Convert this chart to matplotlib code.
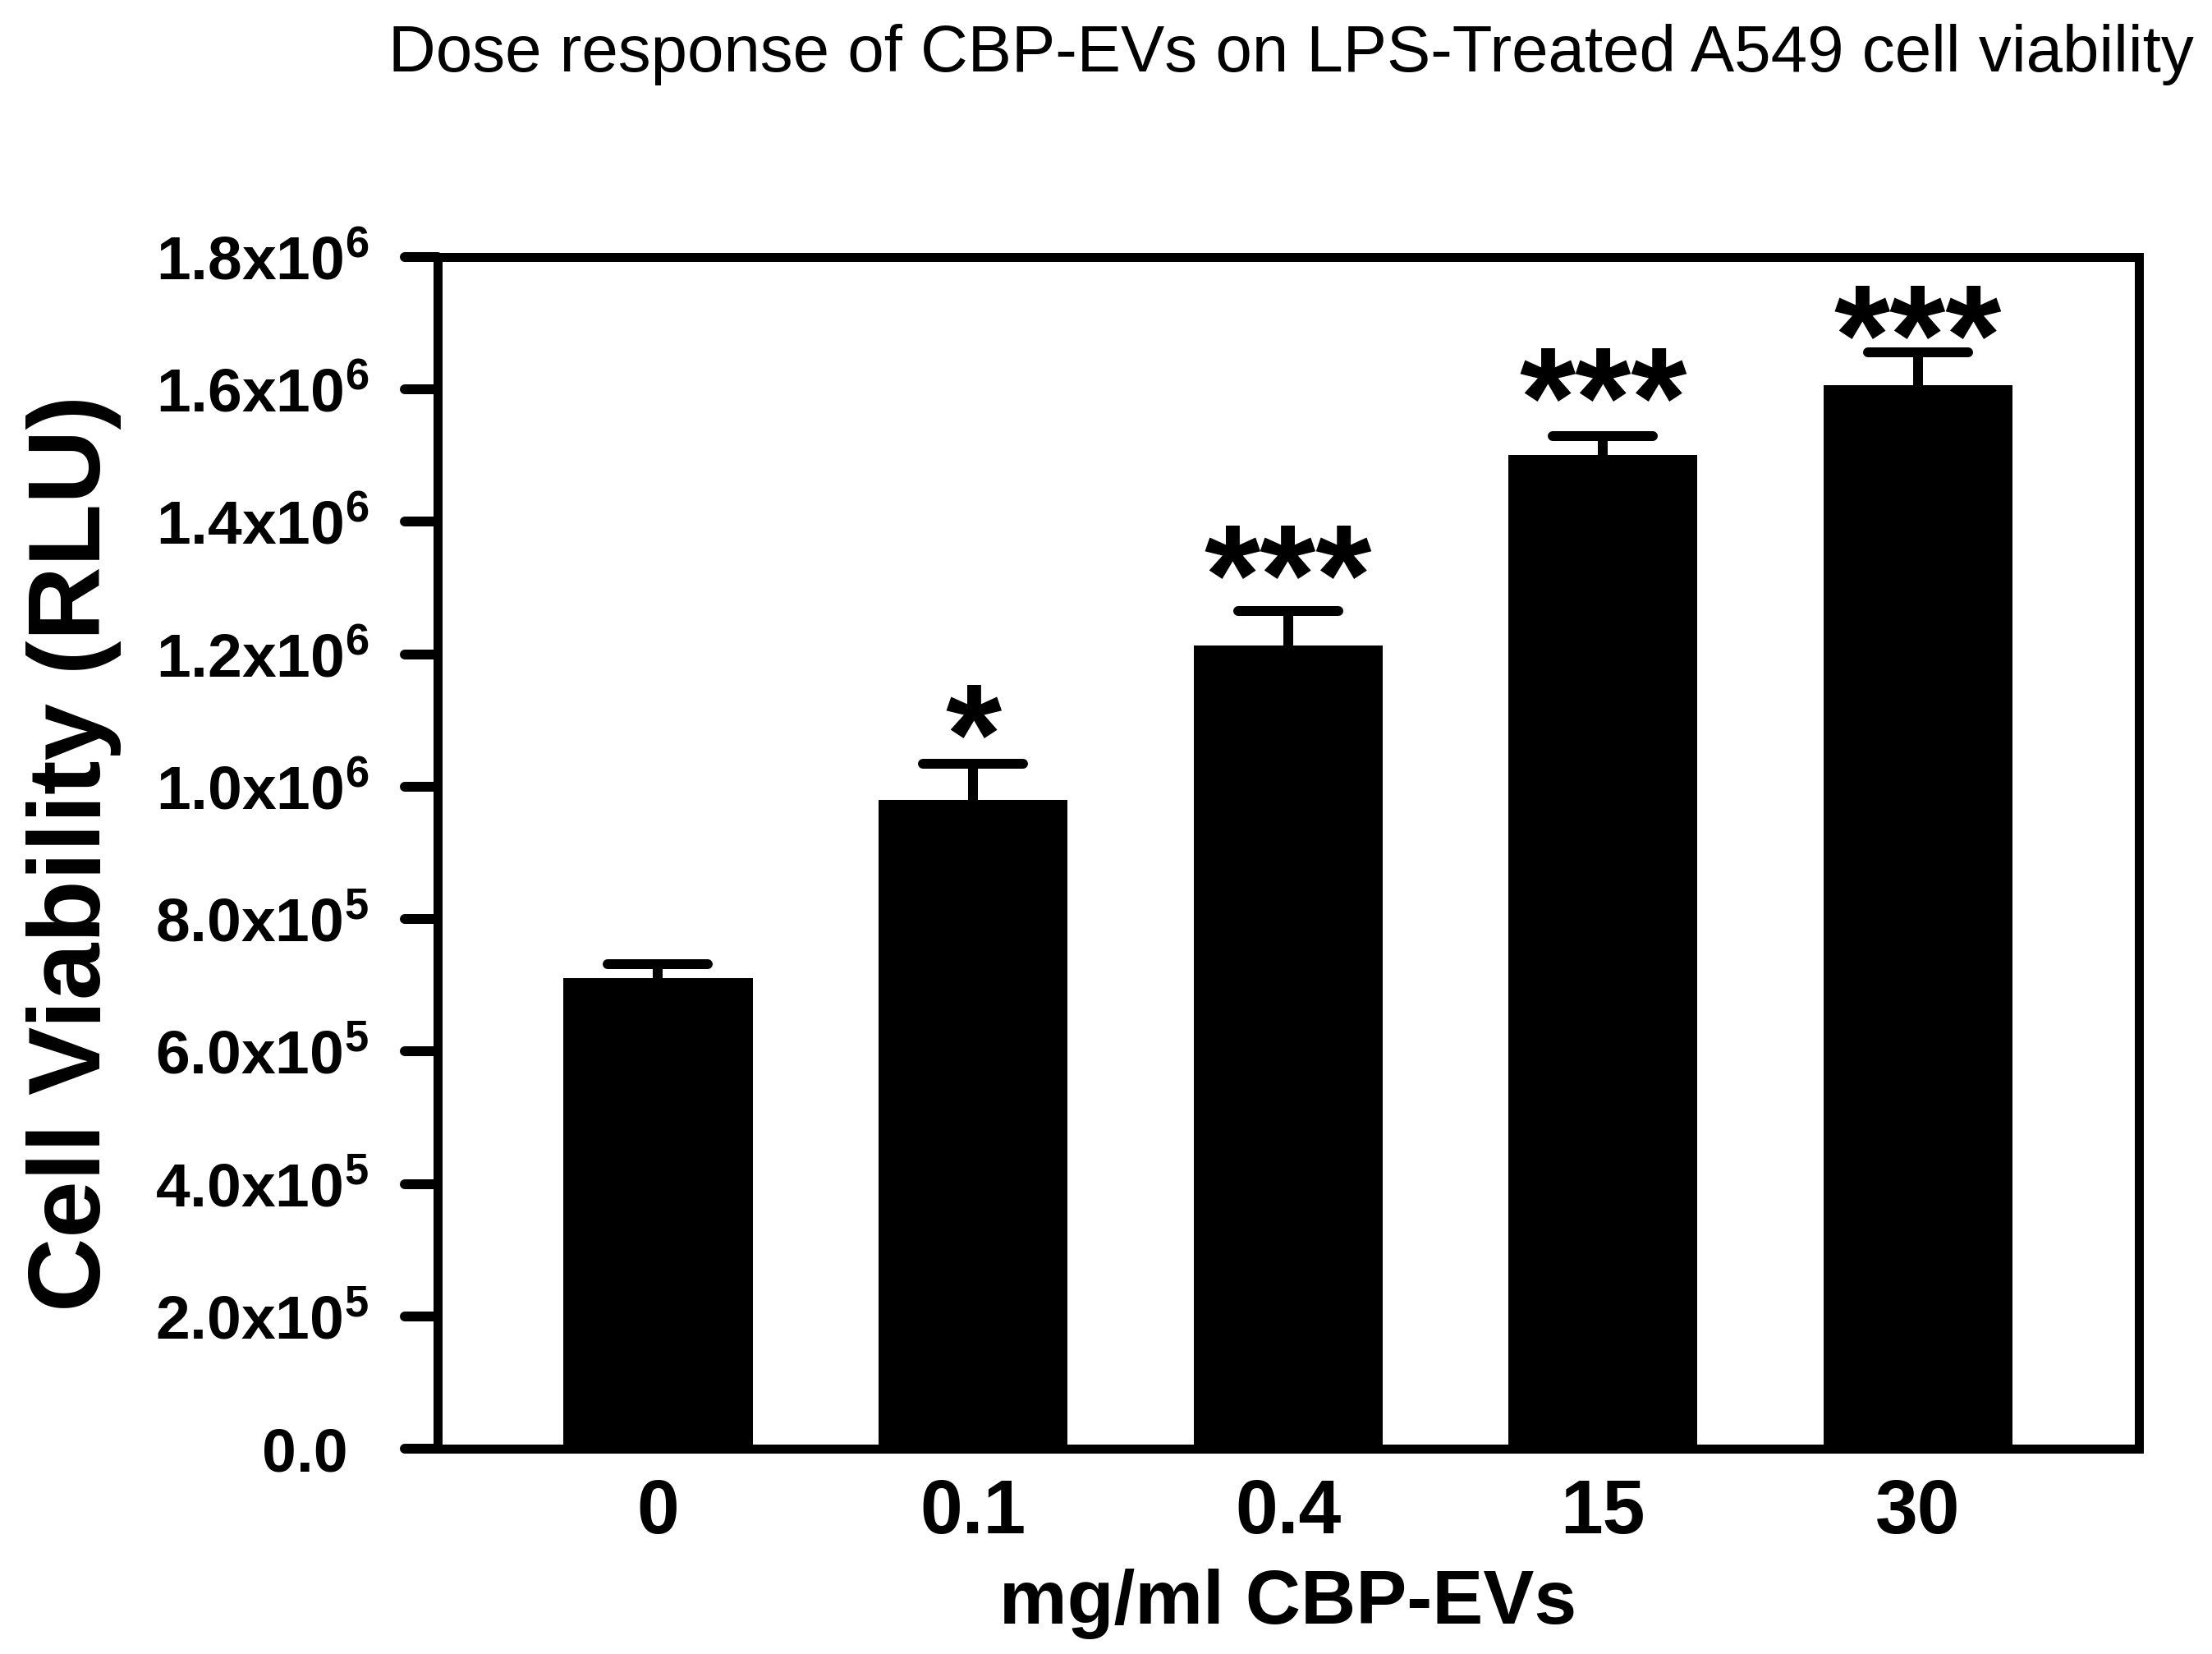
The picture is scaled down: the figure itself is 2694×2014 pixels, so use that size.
import matplotlib
matplotlib.use('Agg')
import matplotlib.pyplot as plt
import matplotlib.lines as mlines
from matplotlib.markers import MarkerStyle
from matplotlib.transforms import ScaledTranslation
import numpy as np

plt.rcParams['font.family'] = ['Liberation Sans', 'DejaVu Sans']
plt.rcParams['mathtext.default'] = 'regular'

# data
doses = ['0', '0.1', '0.4', '15', '30']
viability = [7.11e5, 9.80e5, 12.13e5, 15.01e5, 16.07e5]
sem = [0.21e5, 0.55e5, 0.52e5, 0.29e5, 0.49e5]
stars = ['', '*', '***', '***', '***']
yticks = [0, 2e5, 4e5, 6e5, 8e5, 10e5, 12e5, 14e5, 16e5, 18e5]

# gap between cap and bottom of the asterisks, pixels
star_gap = [0, 31, 40, 42, 16]

DPI = 100
px = 72.0 / DPI  # points per pixel

fig = plt.figure(figsize=(26.94, 20.14), dpi=DPI)
ax = fig.add_axes([0.1978, 0.1241, 0.769, 0.7205])

x = np.arange(len(doses))
ax.bar(x, viability, width=0.6, color='black', zorder=2)
_, caps, _ = ax.errorbar(x, viability, yerr=[np.zeros(len(sem)), sem], fmt='none',
                         ecolor='black', elinewidth=12 * px, capsize=61 * px,
                         capthick=12 * px, zorder=1)
for c in caps:
    if np.allclose(c.get_ydata(), viability):
        c.set_visible(False)  # no lower cap
    else:
        c.set_marker(MarkerStyle('_', capstyle='round'))

star_fs = 126
for xi, v, e, s, g in zip(x, viability, sem, stars, star_gap):
    if not s:
        continue
    off = (g - 0.31 * star_fs / px) * px
    ax.annotate(s, (xi, v + e), xytext=(0, off), textcoords='offset points',
                ha='center', va='baseline', fontsize=star_fs, fontweight='bold')

def tick_label(v):
    if v == 0:
        return '0.0'
    exp = int(np.floor(np.log10(v)))
    return r'%.1fx10$^{%d}$' % (v / 10 ** exp, exp)

ax.set_xlim(-0.7, 4.7)
ax.set_ylim(0, 1.8e6)
ax.set_yticks(yticks)
ax.set_yticklabels([tick_label(v) for v in yticks], fontsize=54, fontweight='bold')
ax.set_xticks(x)
ax.set_xticklabels(doses, fontsize=67, fontweight='bold')
ax.tick_params(axis='y', direction='out', length=40 * px, width=12 * px, pad=44 * px)
ax.tick_params(axis='x', length=0, pad=36 * px)
yt = ax.yaxis.get_major_ticks()
for t in yt:
    t.tick1line.set_marker(MarkerStyle(mlines.TICKLEFT, capstyle='round'))
# "0.0" has no exponent, so it sits a little left like the others' mantissas
lbl0 = yt[0].label1
lbl0.set_transform(lbl0.get_transform() + ScaledTranslation(-25 / DPI, 0, fig.dpi_scale_trans))

for sp in ax.spines.values():
    sp.set_linewidth(11 * px)

ax.set_ylabel('Cell Viability (RLU)', fontsize=90, fontweight='bold')
ax.yaxis.set_label_coords(-0.186, 0.5)
ax.set_xlabel('mg/ml CBP-EVs', fontsize=67, fontweight='bold', va='baseline')
ax.xaxis.set_label_coords(0.5, -0.1468)

fig.text(2672 / 2694, 1 - 87 / 2014,
         'Dose response of CBP-EVs on LPS-Treated A549 cell viability',
         ha='right', va='baseline', fontsize=57.5)

fig.savefig('out.png', dpi=DPI)
